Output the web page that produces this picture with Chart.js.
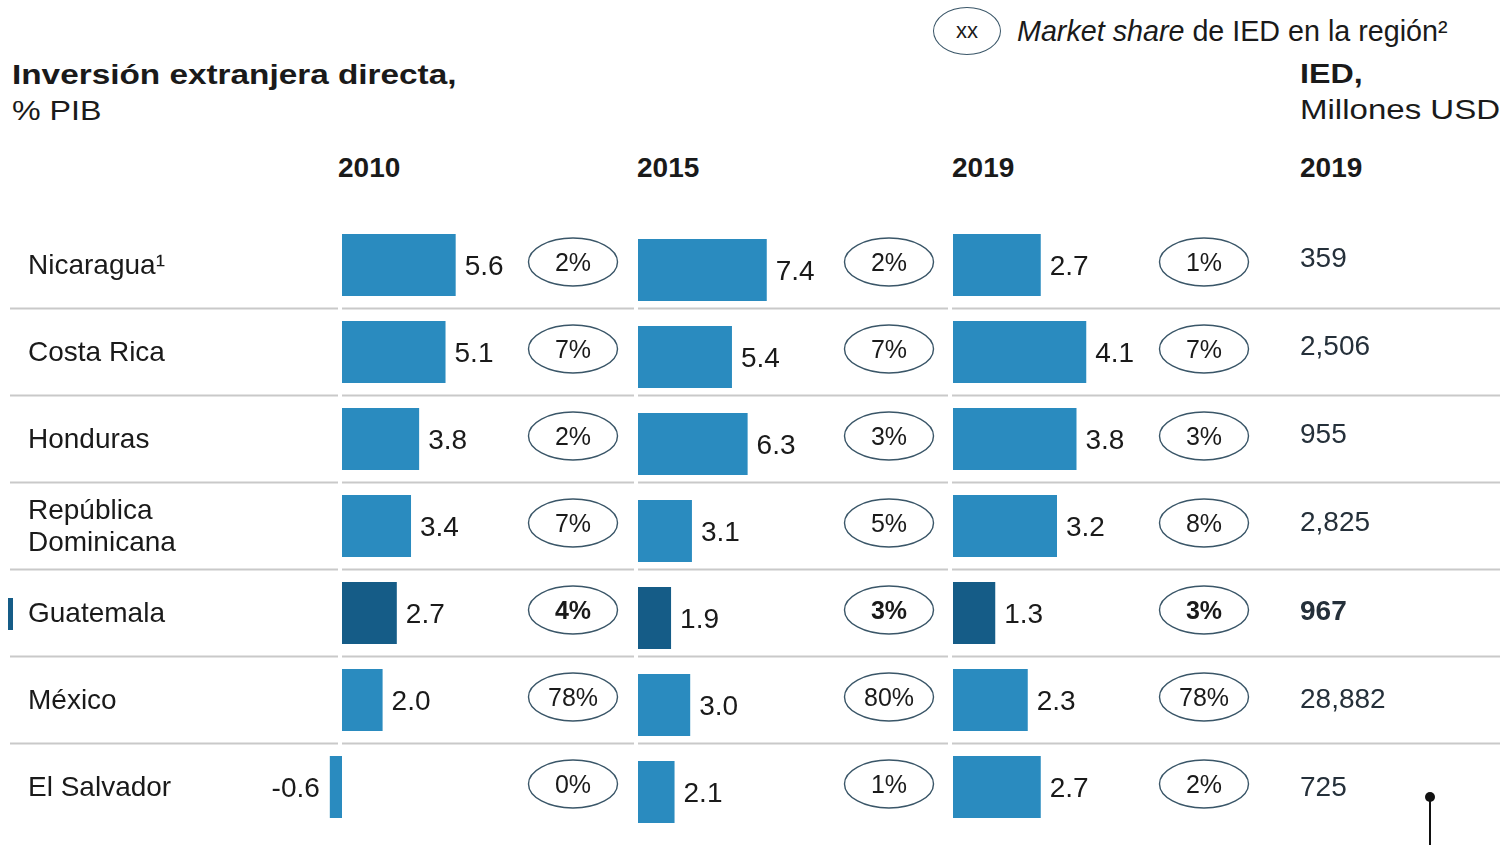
<!DOCTYPE html>
<html lang="es">
<head>
<meta charset="utf-8">
<title>Inversión extranjera directa</title>
<script src="https://cdn.jsdelivr.net/npm/chart.js@4.4.1/dist/chart.umd.min.js"></script>
<style>
  body { margin: 0; background: #fff; }
  #wrap { position: relative; width: 1504px; height: 845px; overflow: hidden; font-family: "Liberation Sans", Arial, sans-serif; color: #1a1a1a; }
  #wrap canvas { position: absolute; left: 0; top: 0; }
  .txt { position: absolute; white-space: nowrap; line-height: 28px; font-size: 28px; }
  .bold { font-weight: bold; }
  .wide { transform: scaleX(1.15); transform-origin: left center; }
  #legendOval { position: absolute; left: 933px; top: 7px; width: 66px; height: 46px; border: 1.5px solid #3a5668; border-radius: 50%; font-size: 22px; line-height: 46px; text-align: center; }
  #pinDot { position: absolute; left: 1425px; top: 792px; width: 10px; height: 10px; border-radius: 50%; background: #111; }
  #pinLine { position: absolute; left: 1429px; top: 797px; width: 2px; height: 60px; background: #111; }
</style>
</head>
<body>
<div id="wrap">
  <div class="txt bold" style="left:12px; top:61px; transform:scaleX(1.19); transform-origin:left center;">Inversión extranjera directa,</div>
  <div class="txt wide" style="left:12px; top:97px;">% PIB</div>
  <div class="txt bold wide" style="left:1300px; top:60px;">IED,</div>
  <div class="txt" style="left:1300px; top:96px; transform:scaleX(1.18); transform-origin:left center;">Millones USD</div>
  <div class="txt bold" style="left:338px; top:154px;">2010</div>
  <div class="txt bold" style="left:637px; top:154px;">2015</div>
  <div class="txt bold" style="left:952px; top:154px;">2019</div>
  <div class="txt bold" style="left:1300px; top:154px;">2019</div>
  <div id="legendOval">xx</div>
  <div class="txt" style="left:1017px; top:17px; font-size:28.7px;"><i>Market share</i> de IED en la región²</div>
  <canvas id="chart2010" width="1504" height="845"></canvas>
  <canvas id="chart2015" width="1504" height="845"></canvas>
  <canvas id="chart2019" width="1504" height="845"></canvas>
  <div id="pinDot"></div>
  <div id="pinLine"></div>
</div>

<script>
'use strict';

// ------------------------------- Data ------------------------------//
const countries = ['Nicaragua', 'Costa Rica', 'Honduras', 'República Dominicana', 'Guatemala', 'México', 'El Salvador'];
const countryLabels = [['Nicaragua¹'], ['Costa Rica'], ['Honduras'], ['República', 'Dominicana'], ['Guatemala'], ['México'], ['El Salvador']];
const highlight = 'Guatemala';

const fdiGdp2010 = [5.6, 5.1, 3.8, 3.4, 2.7, 2.0, -0.6];
const fdiGdp2015 = [7.4, 5.4, 6.3, 3.1, 1.9, 3.0, 2.1];
const fdiGdp2019 = [2.7, 4.1, 3.8, 3.2, 1.3, 2.3, 2.7];

const share2010 = [2, 7, 2, 7, 4, 78, 0];
const share2015 = [2, 7, 3, 5, 3, 80, 1];
const share2019 = [1, 7, 3, 8, 3, 78, 2];

const fdiMillions2019 = [359, 2506, 955, 2825, 967, 28882, 725];

// ------------------------------- Layout & Styles ------------------------------//
const canvasW = 1504;
const canvasH = 845;
const rowTop = 221.5;
const rowH = 87;
const textNudge = 2; // canvas 'middle' sits a little high for this font
const lightBlue = '#2a8bbf';
const darkBlue = '#155c87';
const textColor = '#1a1a1a';
const ovalColor = '#3a5668';
const lineColor = '#c9c9c9';
const font = '"Liberation Sans", Arial, sans-serif';

const panel2010 = { zero: 342, pxPerUnit: 20.3, ovalX: 573, shift: 0 };
const panel2015 = { zero: 638, pxPerUnit: 17.4, ovalX: 889, shift: 5 };
const panel2019 = { zero: 953, pxPerUnit: 32.5, ovalX: 1204, shift: 0 };

// ------------------------------- Plugins ------------------------------//
function barLabelsPlugin(shares, panel) {
  return {
    id: 'barLabels',
    afterDatasetsDraw(chart) {
      const ctx = chart.ctx;
      const meta = chart.getDatasetMeta(0);
      const values = chart.data.datasets[0].data;
      ctx.save();
      ctx.textBaseline = 'middle';
      meta.data.forEach((bar, i) => {
        const value = values[i];
        ctx.fillStyle = textColor;
        ctx.font = `28px ${font}`;
        if (value >= 0) {
          ctx.textAlign = 'left';
          ctx.fillText(value.toFixed(1), bar.x + 9, bar.y + textNudge);
        } else {
          ctx.textAlign = 'right';
          ctx.fillText(value.toFixed(1), bar.x - 10, bar.y + textNudge);
        }

        // market share oval
        const cy = bar.y - panel.shift - 3;
        ctx.beginPath();
        ctx.ellipse(panel.ovalX, cy, 44.5, 24, 0, 0, Math.PI * 2);
        ctx.strokeStyle = ovalColor;
        ctx.lineWidth = 1.4;
        ctx.stroke();
        const bold = countries[i] === highlight ? 'bold ' : '';
        ctx.font = `${bold}25px ${font}`;
        ctx.textAlign = 'center';
        ctx.fillText(shares[i] + '%', panel.ovalX, cy + textNudge);
      });
      ctx.restore();
    }
  };
}

const rowsPlugin = {
  id: 'rows',
  beforeDatasetsDraw(chart) {
    const ctx = chart.ctx;
    const yScale = chart.scales.y;
    const segments = [[10, 338], [342, 634], [638, 948], [952, 1500]];
    ctx.save();
    ctx.strokeStyle = lineColor;
    ctx.lineWidth = 2;
    for (let i = 0; i < countries.length - 1; i++) {
      const y = yScale.getPixelForValue(i) + rowH / 2;
      for (let seg of segments) {
        ctx.beginPath();
        ctx.moveTo(seg[0], y);
        ctx.lineTo(seg[1], y);
        ctx.stroke();
      }
    }

    ctx.textBaseline = 'middle';
    ctx.textAlign = 'left';
    ctx.fillStyle = textColor;
    ctx.font = `28px ${font}`;
    countryLabels.forEach((lines, i) => {
      const cy = yScale.getPixelForValue(i);
      lines.forEach((line, j) => {
        const y = cy + (j - (lines.length - 1) / 2) * 32;
        ctx.fillText(line, 28, y + textNudge - 1);
      });
      if (countries[i] === highlight) {
        ctx.fillStyle = darkBlue;
        ctx.fillRect(8, cy - 15, 5, 32);
        ctx.fillStyle = textColor;
      }
    });
    ctx.restore();
  }
};

const millionsPlugin = {
  id: 'millions',
  afterDatasetsDraw(chart) {
    const ctx = chart.ctx;
    const yScale = chart.scales.y;
    ctx.save();
    ctx.textBaseline = 'middle';
    ctx.textAlign = 'left';
    ctx.fillStyle = '#25303a';
    fdiMillions2019.forEach((value, i) => {
      const bold = countries[i] === highlight ? 'bold ' : '';
      ctx.font = `${bold}28px ${font}`;
      // this column sits slightly higher at the top and drifts down to the row centre
      const y = yScale.getPixelForValue(i) - 8 + i * 1.25 + textNudge;
      ctx.fillText(value.toLocaleString('en-US'), 1300, y);
    });
    ctx.restore();
  }
};

// ------------------------------- Charts ------------------------------//
function makePanel(canvasId, values, shares, panel, extraPlugins) {
  const ctx = document.getElementById(canvasId).getContext('2d');
  return new Chart(ctx, {
    type: 'bar',
    data: {
      labels: countries,
      datasets: [{
        data: values,
        backgroundColor: countries.map(c => c === highlight ? darkBlue : lightBlue),
        borderWidth: 0,
        barPercentage: 62 / rowH,
        categoryPercentage: 1
      }]
    },
    options: {
      indexAxis: 'y',
      responsive: false,
      animation: false,
      layout: {
        padding: {
          left: 0,
          right: 0,
          top: rowTop + panel.shift,
          bottom: canvasH - rowTop - rowH * countries.length - panel.shift
        }
      },
      scales: {
        x: {
          display: false,
          min: -panel.zero / panel.pxPerUnit,
          max: (canvasW - panel.zero) / panel.pxPerUnit
        },
        y: { display: false }
      },
      plugins: {
        legend: { display: false },
        tooltip: { enabled: false }
      }
    },
    plugins: [barLabelsPlugin(shares, panel)].concat(extraPlugins)
  });
}

makePanel('chart2010', fdiGdp2010, share2010, panel2010, [rowsPlugin]);
makePanel('chart2015', fdiGdp2015, share2015, panel2015, []);
makePanel('chart2019', fdiGdp2019, share2019, panel2019, [millionsPlugin]);
</script>
</body>
</html>
